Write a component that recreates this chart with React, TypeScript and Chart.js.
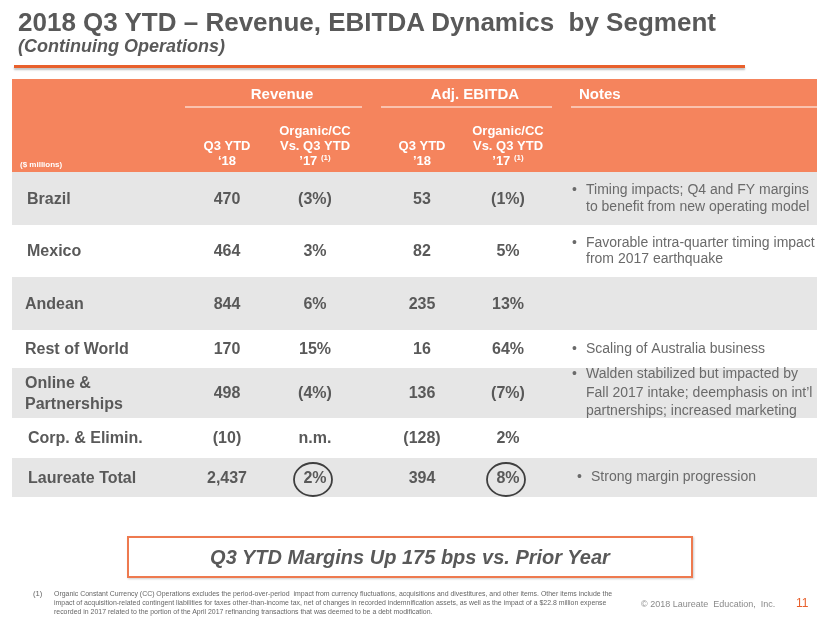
import React, { useEffect, useRef } from 'react';
import { Chart, registerables } from 'chart.js';

Chart.register(...registerables);

// ---------- data ----------
const segments = ['Brazil', 'Mexico', 'Andean', 'Rest of World', 'Online &\nPartnerships', 'Corp. & Elimin.', 'Laureate Total'];
const revenue = [470, 464, 844, 170, 498, -10, 2437];
const revenueGrowth: (number | null)[] = [-3, 3, 6, 15, -4, null, 2];
const ebitda = [53, 82, 235, 16, 136, -128, 394];
const ebitdaGrowth: (number | null)[] = [-1, 5, 13, 64, -7, 2, 8];
const notes: string[][] = [
  ['Timing impacts; Q4 and FY margins', 'to benefit from new operating model'],
  ['Favorable intra-quarter timing impact', 'from 2017 earthquake'],
  [],
  ['Scaling of Australia business'],
  ['Walden stabilized but impacted by', 'Fall 2017 intake; deemphasis on int\u2019l', 'partnerships; increased marketing'],
  [],
  ['Strong margin progression'],
];
const circledRows = [6];
const groupHeaders = ['Revenue', 'Adj. EBITDA', 'Notes'];
const columnHeaders: string[][] = [
  ['Q3 YTD', '\u201818'],
  ['Organic/CC', 'Vs. Q3 YTD', '\u201917'],
  ['Q3 YTD', '\u201918'],
  ['Organic/CC', 'Vs. Q3 YTD', '\u201917'],
];
const columnFootnote = ['', '(1)', '', '(1)'];
const unitsLabel = '($ millions)';

// ---------- layout / style ----------
const W = 830;
const H = 623;
const FONT = '"Liberation Sans", Arial, Helvetica, sans-serif';
const ORANGE = '#F5845D';
const GREY_BAND = '#E6E6E6';
const TEXT = '#595959';
const NOTE_TEXT = '#6A6A6A';
const L = {
  left: 12,
  right: 817,
  headerTop: 79,
  headerBottom: 172,
  rowEdges: [172, 225, 277, 330, 368, 418, 458, 497],
  labelX: [27, 27, 25, 25, 25, 28, 28],
  colX: [227, 315, 422, 508],
  bulletX: 572,
  noteX: 587,
  noteLineH: [16.6, 16.6, 16.6, 16.6, 18.5, 16.6, 16.6],
  groupX: [282, 475, 579],
  groupY: 95,
  groupLines: [[185, 362], [381, 552], [571, 817]],
  groupLineY: 107,
  subYs: [131, 146, 161],
};

const fmtAmount = (v: number) =>
  v < 0 ? `(${Math.abs(v).toLocaleString('en-US')})` : v.toLocaleString('en-US');
const fmtPct = (v: number | null) => (v == null ? 'n.m.' : v < 0 ? `(${-v}%)` : `${v}%`);

const tablePlugin = {
  id: 'tableText',
  afterDatasetsDraw(chart: any) {
    const ctx = chart.ctx as CanvasRenderingContext2D;
    const xs = chart.scales.x;
    const ys = chart.scales.y;
    const px = (v: number) => xs.getPixelForValue(v);
    const py = (v: number) => ys.getPixelForValue(v);
    ctx.save();
    ctx.textBaseline = 'middle';

    // group headers
    ctx.fillStyle = '#FFFFFF';
    ctx.font = `bold 15px ${FONT}`;
    groupHeaders.forEach((g, i) => {
      ctx.textAlign = i < 2 ? 'center' : 'left';
      ctx.fillText(g, px(L.groupX[i]), py(L.groupY));
    });
    ctx.strokeStyle = '#FFFFFF';
    ctx.lineWidth = 1.2;
    L.groupLines.forEach(([a, b]) => {
      ctx.beginPath();
      ctx.moveTo(px(a), py(L.groupLineY));
      ctx.lineTo(px(b), py(L.groupLineY));
      ctx.stroke();
    });

    // column headers (bottom aligned)
    columnHeaders.forEach((lines, c) => {
      const n = lines.length;
      lines.forEach((t, k) => {
        const y = py(L.subYs[3 - n + k]);
        ctx.font = `bold 13px ${FONT}`;
        const isLast = k === n - 1 && columnFootnote[c];
        if (isLast) {
          const main = t + ' ';
          const w1 = ctx.measureText(main).width;
          ctx.font = `bold 8px ${FONT}`;
          const w2 = ctx.measureText(columnFootnote[c]).width;
          const start = px(L.colX[c]) - (w1 + w2) / 2;
          ctx.textAlign = 'left';
          ctx.font = `bold 13px ${FONT}`;
          ctx.fillText(main, start, y);
          ctx.font = `bold 8px ${FONT}`;
          ctx.fillText(columnFootnote[c], start + w1, y - 3);
        } else {
          ctx.textAlign = 'center';
          ctx.fillText(t, px(L.colX[c]), y);
        }
      });
    });
    ctx.textAlign = 'left';
    ctx.font = `bold 8px ${FONT}`;
    ctx.fillText(unitsLabel, px(20), py(165));

    // body rows
    segments.forEach((seg, i) => {
      const cy = (L.rowEdges[i] + L.rowEdges[i + 1]) / 2 + 1;
      ctx.fillStyle = TEXT;
      ctx.font = `bold 16px ${FONT}`;
      ctx.textAlign = 'left';
      const segLines = seg.split('\n');
      segLines.forEach((t, k) => {
        const y = cy + (k - (segLines.length - 1) / 2) * 21;
        ctx.fillText(t, px(L.labelX[i]), py(y));
      });
      ctx.textAlign = 'center';
      const vals = [fmtAmount(revenue[i]), fmtPct(revenueGrowth[i]), fmtAmount(ebitda[i]), fmtPct(ebitdaGrowth[i])];
      vals.forEach((v, c) => ctx.fillText(v, px(L.colX[c]), py(cy)));

      // notes
      const nl = notes[i];
      ctx.font = `14px ${FONT}`;
      ctx.fillStyle = NOTE_TEXT;
      ctx.textAlign = 'left';
      const lh = L.noteLineH[i];
      const shift = circledRows.includes(i) ? 5 : 0;
      nl.forEach((t, k) => {
        const y = cy - 1 + (k - (nl.length - 1) / 2) * lh;
        if (k === 0) ctx.fillText('\u2022', px(L.bulletX + shift), py(y));
        ctx.fillText(t, px(L.noteX + shift - 1), py(y));
      });

      if (circledRows.includes(i)) {
        ctx.strokeStyle = '#3F3F3F';
        ctx.lineWidth = 1.8;
        [1, 3].forEach((c) => {
          ctx.beginPath();
          ctx.ellipse(px(L.colX[c] - 2), py(cy + 1), 19, 16.5, 0, 0, Math.PI * 2);
          ctx.stroke();
        });
      }
    });
    ctx.restore();
  },
};

function TableChart() {
  const ref = useRef<HTMLCanvasElement | null>(null);
  useEffect(() => {
    if (!ref.current) return;
    const cx = (L.left + L.right) / 2;
    const bandData = [
      { x: cx, y: [L.headerTop, L.headerBottom] },
      ...segments.map((_, i) => ({ x: cx, y: [L.rowEdges[i], L.rowEdges[i + 1]] })),
    ];
    const bandColors = [ORANGE, ...segments.map((_, i) => (i % 2 === 0 ? GREY_BAND : '#FFFFFF'))];
    const chart = new Chart(ref.current, {
      type: 'bar',
      data: {
        datasets: [
          {
            data: bandData as any,
            backgroundColor: bandColors,
            borderWidth: 0,
            barThickness: L.right - L.left,
            inflateAmount: 0,
          } as any,
        ],
      },
      options: {
        animation: false,
        responsive: false,
        maintainAspectRatio: false,
        events: [],
        layout: { padding: 0 },
        scales: {
          x: { type: 'linear', min: 0, max: W, display: false, offset: false },
          y: { type: 'linear', min: 0, max: H, reverse: true, display: false, offset: false },
        },
        plugins: { legend: { display: false }, tooltip: { enabled: false } },
      },
      plugins: [tablePlugin],
    });
    return () => chart.destroy();
  }, []);
  return <canvas ref={ref} width={W} height={H} style={{ position: 'absolute', left: 0, top: 0 }} />;
}

export default function App() {
  const base: React.CSSProperties = { position: 'absolute', fontFamily: FONT, whiteSpace: 'nowrap', margin: 0 };
  return (
    <div style={{ position: 'absolute', left: 0, top: 0, width: W, height: H, background: '#fff', overflow: 'hidden' }}>
      <TableChart />
      <div style={{ ...base, left: 18, top: 7, fontSize: 26, lineHeight: '30px', fontWeight: 'bold', color: TEXT }}>
        2018 Q3 YTD – Revenue, EBITDA Dynamics&nbsp; by Segment
      </div>
      <div style={{ ...base, left: 18, top: 36, fontSize: 18, lineHeight: '20px', fontWeight: 'bold', fontStyle: 'italic', color: TEXT }}>
        (Continuing Operations)
      </div>
      <div style={{ ...base, left: 14, top: 65, width: 731, height: 3, background: '#E8602C', boxShadow: '0 2px 2px rgba(0,0,0,0.25)' }} />
      <div
        style={{
          ...base,
          left: 127,
          top: 536,
          width: 562,
          height: 38,
          border: '2px solid #EE7A4F',
          boxShadow: '1px 1px 2px rgba(0,0,0,0.2)',
          display: 'flex',
          alignItems: 'center',
          justifyContent: 'center',
          fontSize: 20,
          fontWeight: 'bold',
          fontStyle: 'italic',
          color: TEXT,
        }}
      >
        Q3 YTD Margins Up 175 bps vs. Prior Year
      </div>
      <div style={{ ...base, left: 33, top: 590, fontSize: 7.6, lineHeight: '8.8px', color: '#666' }}>(1)</div>
      <div
        style={{
          ...base,
          left: 54,
          top: 590,
          fontSize: 7.6,
          lineHeight: '8.8px',
          color: '#666',
          transform: 'scaleX(0.912)',
          transformOrigin: '0 0',
        }}
      >
        <div>Organic Constant Currency (CC) Operations excludes the period-over-period&nbsp; impact from currency fluctuations, acquisitions and divestitures, and other items. Other items include the</div>
        <div>impact of acquisition-related contingent liabilities for taxes other-than-income tax, net of changes in recorded indemnification assets, as well as the impact of a $22.8 million expense</div>
        <div>recorded in 2017 related to the portion of the April 2017 refinancing transactions that was deemed to be a debt modification.</div>
      </div>
      <div style={{ ...base, left: 641, top: 598, fontSize: 9, lineHeight: '12px', color: '#8A8A8A' }}>
        © 2018 Laureate&nbsp; Education,&nbsp; Inc.
      </div>
      <div style={{ ...base, left: 796, top: 596, fontSize: 12, lineHeight: '15px', color: '#E8602C' }}>11</div>
    </div>
  );
}
